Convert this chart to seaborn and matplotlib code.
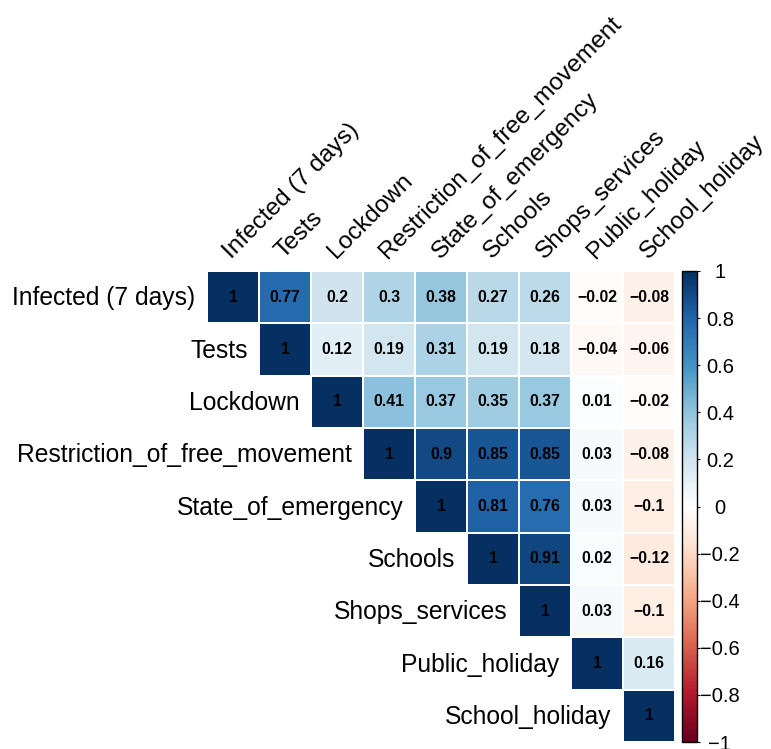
import numpy as np
import pandas as pd
import matplotlib
matplotlib.use("Agg")
import matplotlib.pyplot as plt
from matplotlib.colors import LinearSegmentedColormap
import seaborn as sns

sns.set_style("white")
plt.rcParams["font.family"] = ["Liberation Sans", "DejaVu Sans"]
plt.rcParams["text.color"] = "black"

variables = [
    "Infected (7 days)", "Tests", "Lockdown", "Restriction_of_free_movement",
    "State_of_emergency", "Schools", "Shops_services", "Public_holiday",
    "School_holiday",
]

# Upper-triangle rows of the correlation matrix (diagonal first)
row_infected = [1, 0.77, 0.2, 0.3, 0.38, 0.27, 0.26, -0.02, -0.08]
row_tests = [1, 0.12, 0.19, 0.31, 0.19, 0.18, -0.04, -0.06]
row_lockdown = [1, 0.41, 0.37, 0.35, 0.37, 0.01, -0.02]
row_restriction = [1, 0.9, 0.85, 0.85, 0.03, -0.08]
row_emergency = [1, 0.81, 0.76, 0.03, -0.1]
row_schools = [1, 0.91, 0.02, -0.12]
row_shops = [1, 0.03, -0.1]
row_public = [1, 0.16]
row_school_holiday = [1]

upper_rows = [row_infected, row_tests, row_lockdown, row_restriction,
              row_emergency, row_schools, row_shops, row_public,
              row_school_holiday]

colorbar_ticks = [-1, -0.8, -0.6, -0.4, -0.2, 0, 0.2, 0.4, 0.6, 0.8, 1]

n = len(variables)
corr = np.zeros((n, n))
for i, row in enumerate(upper_rows):
    for k, v in enumerate(row):
        corr[i, i + k] = v
        corr[i + k, i] = v
df = pd.DataFrame(corr, index=variables, columns=variables)
mask = np.tril(np.ones((n, n), dtype=bool), k=-1)


def fmt(v):
    s = f"{v:.2f}".rstrip("0").rstrip(".")
    if s in ("-0", "0"):
        s = "0"
    return s.replace("-", "\u2212")


labels = np.vectorize(fmt)(corr)

rdbu = LinearSegmentedColormap.from_list(
    "rdbu_corr",
    ["#67001F", "#B2182B", "#D6604D", "#F4A582", "#FDDBC7", "#FFFFFF",
     "#D1E5F0", "#92C5DE", "#4393C3", "#2166AC", "#053061"], N=200)

W, H = 771, 749
fig = plt.figure(figsize=(W / 100, H / 100), dpi=100)
ax = fig.add_axes([207 / W, 1 - 742 / H, 468 / W, 471 / H])
cax = fig.add_axes([682 / W, 1 - 742 / H, 15 / W, 471 / H])

sns.heatmap(df, mask=mask, cmap=rdbu, vmin=-1, vmax=1, annot=labels, fmt="",
            annot_kws={"fontsize": 11.3, "fontweight": "bold", "color": "black"},
            linewidths=0.2, linecolor="white", cbar_ax=cax,
            xticklabels=False, yticklabels=False, ax=ax)
for t in ax.texts:
    t.set_color("black")

# Row labels beside the diagonal, column labels slanted above the grid
for i, name in enumerate(variables):
    ax.text(i - 0.22, i + 0.52, name, ha="right", va="center",
            fontsize=17.7, color="black")
    ax.text(i + 0.48, -0.22, name, ha="left", va="baseline", fontsize=17.6,
            rotation=45, rotation_mode="anchor", color="black")

# Colour legend
cbar = ax.collections[0].colorbar
cbar.set_ticks(colorbar_ticks)
cbar.set_ticklabels([fmt(t) for t in colorbar_ticks])
for t in cax.get_yticklabels():
    t.set_ha("center")
cax.tick_params(axis="y", length=2.5, width=0.8, pad=14, labelsize=14.5,
                colors="black", right=True)
cbar.outline.set_visible(True)
cbar.outline.set_edgecolor("black")
cbar.outline.set_linewidth(1.0)

fig.savefig("out.png", dpi=100)
